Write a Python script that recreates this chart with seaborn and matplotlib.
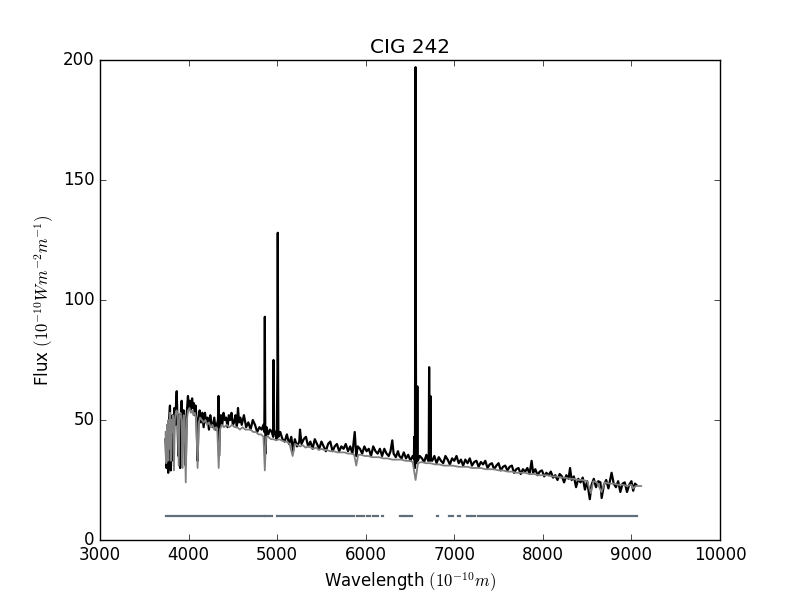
import pandas as pd
import matplotlib
matplotlib.use('Agg')
import matplotlib.pyplot as plt
import seaborn as sns

plt.style.use('classic')

# observed spectrum (black)
wl_obs = [3740, 3750, 3760, 3770, 3780, 3790, 3800, 3810, 3820, 3830,
          3840, 3850, 3860, 3866, 3875, 3885, 3895, 3905, 3915, 3922,
          3932, 3945, 3955, 3968, 3978, 3993, 4005, 4015, 4025, 4040,
          4050, 4060, 4070, 4080, 4090, 4102, 4112, 4125, 4140, 4155,
          4170, 4185, 4200, 4215, 4230, 4245, 4260, 4275, 4290, 4305,
          4320, 4332, 4338, 4344, 4352, 4365, 4380, 4395, 4410, 4425,
          4440, 4455, 4470, 4485, 4500, 4515, 4530, 4545, 4558, 4570,
          4585, 4600, 4625, 4650, 4675, 4700, 4725, 4750, 4775, 4800,
          4825, 4845, 4855, 4858, 4861, 4864, 4868, 4880, 4900, 4920,
          4940, 4955, 4959, 4963, 4980, 4995, 5004, 5007, 5010, 5014,
          5035, 5060, 5085, 5110, 5135, 5160, 5180, 5200, 5225, 5250,
          5258, 5275, 5300, 5325, 5350, 5375, 5400, 5425, 5450, 5475,
          5500, 5525, 5550, 5575, 5600, 5625, 5650, 5675, 5700, 5725,
          5750, 5775, 5800, 5825, 5850, 5876, 5893, 5910, 5935, 5960,
          5985, 6010, 6035, 6060, 6085, 6110, 6135, 6160, 6185, 6210,
          6235, 6260, 6280, 6300, 6315, 6340, 6364, 6380, 6405, 6430,
          6455, 6480, 6505, 6530, 6544, 6548, 6552, 6556, 6560, 6563,
          6566, 6570, 6579, 6583, 6587, 6610, 6635, 6660, 6685, 6705,
          6712, 6716, 6720, 6727, 6731, 6735, 6750, 6775, 6800, 6825,
          6850, 6875, 6900, 6925, 6950, 6975, 7000, 7025, 7050, 7075,
          7100, 7125, 7150, 7175, 7200, 7225, 7250, 7275, 7300, 7325,
          7350, 7375, 7400, 7425, 7450, 7475, 7500, 7525, 7550, 7575,
          7600, 7625, 7650, 7675, 7700, 7725, 7750, 7775, 7800, 7825,
          7850, 7873, 7890, 7915, 7940, 7965, 7990, 8015, 8040, 8065,
          8090, 8115, 8140, 8165, 8190, 8215, 8240, 8265, 8290, 8307,
          8325, 8350, 8375, 8400, 8425, 8450, 8475, 8500, 8530, 8550,
          8575, 8600, 8625, 8650, 8664, 8690, 8715, 8740, 8776, 8800,
          8825, 8850, 8875, 8900, 8925, 8950, 8975, 9000, 9020, 9040,
          9055]
flux_obs = [42, 30, 46, 28, 50, 56, 29, 45, 52, 33,
            55, 48, 58, 62, 50, 35, 52, 30, 55, 58,
            48, 54, 47, 31, 52, 60, 55, 58, 54, 59,
            55, 57, 52, 56, 50, 33, 50, 54, 49, 53,
            47, 53, 49, 51, 46, 52, 48, 47, 51, 46,
            48, 50, 60, 35, 47, 52, 48, 53, 50, 51,
            47, 52, 50, 53, 48, 49, 52, 47, 55, 49,
            51, 48, 52, 47, 49, 46, 50, 48, 45, 47,
            46, 48, 45, 60, 93, 58, 36, 47, 44, 46,
            45, 43, 75, 46, 44, 42, 72, 128, 78, 43,
            45, 42, 41, 44, 40, 43, 37, 42, 39, 41,
            46, 40, 42, 43, 39, 41, 38, 42, 40, 38,
            41, 39, 37, 40, 41, 37, 39, 40, 37, 39,
            38, 40, 37, 39, 36, 45, 35, 39, 38, 36,
            39, 37, 38, 35, 39, 37, 36, 38, 35, 38,
            36, 35, 37, 41.5, 36, 34.5, 37, 35, 34, 36.5,
            34, 35.5, 33, 35, 34, 43, 33, 30, 115, 197,
            90, 32, 36, 64, 33, 35, 34, 32.5, 35.5, 33,
            35, 72, 34, 33, 60, 34, 33, 35, 32, 34.5,
            33, 32, 35, 33.5, 31.5, 34, 33, 35, 32, 33.5,
            31, 33.5, 32, 34, 31, 32.5, 33, 30.5, 32.5, 31.5,
            33, 30, 31.5, 32, 29.5, 31, 32, 29, 30.5, 31,
            29, 30.5, 31, 28, 29.5, 30, 27.5, 29.5, 28.5, 30,
            27.5, 33, 28, 29.5, 27, 28.5, 29, 26.5, 28, 27,
            28.5, 26, 27, 25, 27.5, 26.5, 24, 27, 25.5, 30,
            25, 26.5, 22, 25.5, 24, 26, 21, 24.5, 17, 23,
            25.5, 22, 24.5, 24, 17.5, 23, 25, 21.5, 28, 23.5,
            22, 24.5, 20, 23.5, 24, 20, 23, 24.5, 20.5, 23.5,
            23]

# model spectrum (grey)
wl_model = [3740, 3748, 3756, 3764, 3772, 3780, 3790, 3798, 3806, 3814,
            3822, 3835, 3845, 3855, 3865, 3875, 3882, 3889, 3898, 3910,
            3922, 3933, 3945, 3955, 3968, 3980, 3995, 4010, 4025, 4040,
            4055, 4070, 4085, 4102, 4115, 4130, 4150, 4170, 4190, 4210,
            4230, 4250, 4270, 4290, 4310, 4325, 4340, 4355, 4375, 4400,
            4430, 4460, 4490, 4520, 4550, 4580, 4610, 4640, 4670, 4700,
            4730, 4760, 4790, 4820, 4845, 4861, 4875, 4900, 4930, 4960,
            4990, 5020, 5050, 5080, 5110, 5140, 5175, 5200, 5230, 5260,
            5290, 5320, 5350, 5380, 5410, 5440, 5470, 5500, 5530, 5560,
            5600, 5640, 5680, 5720, 5760, 5800, 5840, 5870, 5893, 5915,
            5950, 5990, 6030, 6070, 6110, 6150, 6200, 6250, 6300, 6350,
            6400, 6450, 6500, 6530, 6563, 6590, 6630, 6680, 6730, 6780,
            6830, 6880, 6930, 6980, 7050, 7100, 7150, 7200, 7250, 7300,
            7350, 7400, 7450, 7500, 7550, 7600, 7650, 7700, 7750, 7800,
            7850, 7900, 7950, 8000, 8050, 8100, 8150, 8200, 8250, 8300,
            8350, 8400, 8450, 8500, 8542, 8570, 8610, 8662, 8700, 8750,
            8800, 8850, 8900, 8950, 9000, 9020, 9050, 9080, 9110]
flux_model = [45, 32, 48, 33, 50, 38, 53, 33, 50, 45,
              52, 29, 50, 53, 54, 52, 42, 31, 52, 53,
              50, 30, 52, 50, 24, 50, 54, 55, 53, 54,
              52, 53, 51, 30, 49, 51, 50, 49, 50, 48,
              49, 47, 48, 46, 47, 45, 30, 46, 48, 47,
              48, 47, 48, 47, 47, 46, 47, 46, 46, 46,
              45, 45, 44, 44, 43, 29, 43, 43, 42, 42,
              41.5, 42, 41.5, 41, 41, 40, 35, 40, 39.5, 39,
              39.5, 38.5, 39, 38.5, 38, 38.5, 37.5, 38, 37.5, 37.5,
              37, 37, 36.5, 36.5, 36.5, 36, 36, 35.5, 31, 35.5,
              35.5, 35, 35, 34.5, 34.5, 34.5, 34, 34, 33.5, 33.5,
              33.5, 33, 33, 32.5, 25, 32, 32.5, 32, 32, 31.5,
              31.5, 31, 31, 31, 30.5, 30.5, 30.5, 30, 30, 30,
              29.5, 29.5, 29.5, 29, 29, 28.5, 28.5, 28, 28, 28,
              27.5, 27.5, 27, 27, 27, 26.5, 26.5, 26, 26, 25.5,
              25.5, 25, 25, 24.5, 19.5, 24.5, 24, 20, 24, 23.5,
              23.5, 23, 23, 22.5, 23, 21.5, 22.5, 22.5, 22.5]

# fitted regions (mask line)
mask_start = [3745, 3866, 4863, 4998, 5898, 6011, 6079, 6180,
              6387, 6444, 6802, 6940, 7042, 7140, 7196, 7268]
mask_end = [3847, 4851, 4938, 5868, 5981, 6048, 6139, 6191,
            6424, 6518, 6816, 6986, 7065, 7178, 7234, 9063]
mask_level = 10

obs = pd.DataFrame({'wl': wl_obs, 'flux': flux_obs})
model = pd.DataFrame({'wl': wl_model, 'flux': flux_model})
rows = []
for i, (a, b) in enumerate(zip(mask_start, mask_end)):
    rows.append((i, a, mask_level))
    rows.append((i, b, mask_level))
mask = pd.DataFrame(rows, columns=['seg', 'wl', 'flux'])

fig, ax = plt.subplots(figsize=(8, 6), dpi=100)
sns.lineplot(data=obs, x='wl', y='flux', color='k', lw=1.6,
             estimator=None, sort=False, ax=ax)
sns.lineplot(data=model, x='wl', y='flux', color='0.5', lw=1.3,
             estimator=None, sort=False, ax=ax)
sns.lineplot(data=mask, x='wl', y='flux', units='seg', color='#5f6e78',
             lw=1.6, estimator=None, ax=ax)

ax.set_xlim(3000, 10000)
ax.set_ylim(0, 200)
ax.set_title('CIG 242')
ax.set_xlabel(r'Wavelength $(10^{-10} m)$')
ax.set_ylabel(r'Flux $(10^{-10} Wm^{-2}m^{-1})$')

fig.savefig('out.png', dpi=100, facecolor='white')
